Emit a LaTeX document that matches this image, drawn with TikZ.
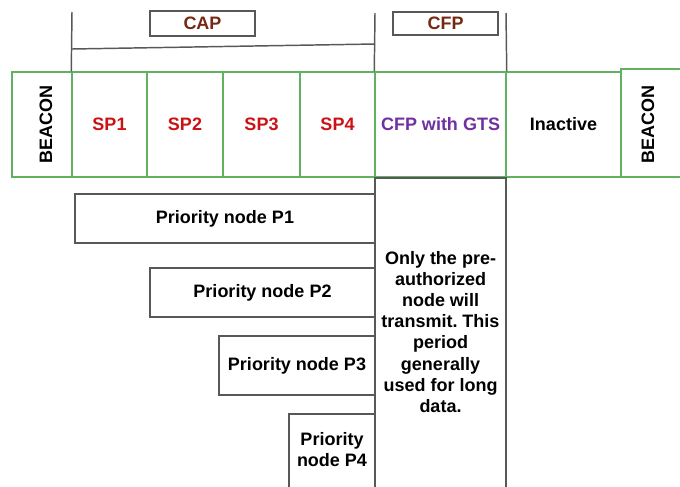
\documentclass[tikz,border=0pt]{standalone}
\usepackage{fontspec}
\setmainfont{Liberation Sans}
\usetikzlibrary{fit}
\definecolor{slotgreen}{RGB}{96,178,96}
\definecolor{rulegray}{RGB}{88,88,88}
\definecolor{sred}{RGB}{205,18,22}
\definecolor{gtspurple}{RGB}{112,48,160}
\definecolor{hdrbrown}{RGB}{118,40,18}
\tikzset{
  slot/.style={draw=slotgreen, line width=1.1pt, inner sep=0pt},
  pnode/.style={draw=rulegray, line width=1.1pt, inner sep=0pt},
  hdr/.style={draw=rulegray, line width=1.1pt, inner sep=0pt},
  lbl/.style={font=\bfseries, align=center, inner sep=0pt},
  rule/.style={draw=rulegray, line width=1.1pt}
}
\frenchspacing
\begin{document}
\begin{tikzpicture}[x=0.75pt,y=-0.75pt]
\path[use as bounding box, clip] (0,0) rectangle (680,486);
\fill[white] (0,0) rectangle (680,486);
\fontsize{13.5}{15.8}\selectfont

% superframe slots
\node[slot, fit={(12,72)(72,177)}] (beaconL) {};
\node[slot, fit={(72,72)(147,177)}] (sp1) {};
\node[slot, fit={(147,72)(223,177)}] (sp2) {};
\node[slot, fit={(223,72)(300,177)}] (sp3) {};
\node[slot, fit={(300,72)(375,177)}] (sp4) {};
\node[slot, fit={(375,72)(506,177)}] (cfp) {};
\node[slot, fit={(506,72)(621,177)}] (inact) {};
\node[slot, fit={(621,69)(700,177)}] (beaconR) {};

\node[lbl] (beaconLtxt) at (46,124) {\rotatebox{90}{BEACON}};
\node[lbl, text=sred] (sp1txt) at (sp1.center) {SP1};
\node[lbl, text=sred] (sp2txt) at (sp2.center) {SP2};
\node[lbl, text=sred] (sp3txt) at (sp3.center) {SP3};
\node[lbl, text=sred] (sp4txt) at (sp4.center) {SP4};
\node[lbl, text=gtspurple] (cfptxt) at (cfp.center) {CFP with GTS};
\node[lbl] (inacttxt) at (inact.center) {Inactive};
\node[lbl] (beaconRtxt) at (648,124) {\rotatebox{90}{BEACON}};

% period headers
\node[hdr, fit={(150,11)(255,36)}] (caphdr) {};
\node[hdr, fit={(393,12)(498,35)}] (cfphdr) {};
\node[lbl, text=hdrbrown] (captxt) at (caphdr.center) {CAP};
\node[lbl, text=hdrbrown] (cfphdrtxt) at (cfphdr.center) {CFP};

% brackets over the periods
\coordinate (capL) at (72,12);
\coordinate (capBarL) at (72,49);
\coordinate (capBarR) at (375,44);
\coordinate (cfpL) at (375,13);
\coordinate (cfpR) at (506,13);
\draw[rule] (capL) -- (sp1.north west);
\draw[rule] (capBarL) -- (capBarR);
\draw[rule] (cfpL) -- (cfp.north west);
\draw[rule] (cfpR) -- (cfp.north east);

% contention-free explanation column
\node[pnode, fit={(375,178)(506,494)}] (note) {};
\node[lbl] (notetxt) at (440.5,332)
  {Only the pre-\\authorized\\node will\\transmit. This\\period\\generally\\used for long\\data.};

% priority nodes
\node[pnode, fit={(75,194)(375,243)}] (p1) {};
\node[pnode, fit={(150,268)(375,317)}] (p2) {};
\node[pnode, fit={(219,336)(375,395)}] (p3) {};
\node[pnode, fit={(289,414)(375,494)}] (p4) {};
\node[lbl] (p1txt) at (p1.center) {Priority node P1};
\node[lbl] (p2txt) at (p2.center) {Priority node P2};
\node[lbl] (p3txt) at (297,366) {Priority node P3};
\node[lbl] (p4txt) at (332,450) {Priority\\node P4};
\end{tikzpicture}
\end{document}
